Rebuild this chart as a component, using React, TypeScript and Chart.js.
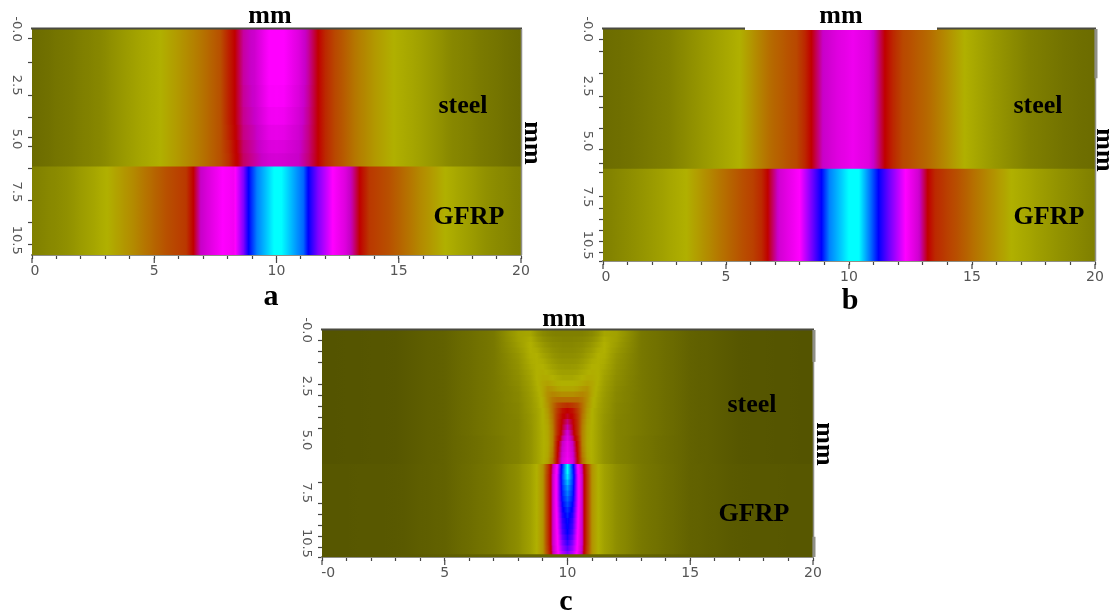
import React, { useEffect, useRef } from "react";
import { Chart, registerables } from "chart.js";

Chart.register(...registerables);

// ---- colour scale: level -> colour ----
const colorLevels = [0, 1, 2, 3, 3.5, 4, 5, 6];
const colorValues = [
  [79, 79, 0], [176, 176, 0], [184, 80, 0], [192, 0, 0],
  [200, 0, 200], [255, 0, 255], [0, 0, 255], [0, 255, 255],
];

// ---- panel a ----
const aSteelX = [0, 1.4, 2.8, 4.15, 5.25, 6, 6.9, 7.7, 8.05, 8.3, 8.65, 9.1, 9.7, 10, 10.3, 10.9, 11.3, 11.7, 12, 12.4, 13.2, 14, 14.8, 15.9, 17.2, 18.6, 20];
const aSteelRow1 = [0.29, 0.42, 0.58, 0.84, 1, 1.25, 1.6, 2, 2.6, 3, 3.4, 3.55, 4, 4, 4, 3.7, 3.4, 3, 2.5, 2.1, 1.6, 1.25, 1, 0.84, 0.58, 0.42, 0.29];
const aSteelRow2 = [0.29, 0.42, 0.58, 0.84, 1, 1.25, 1.6, 2, 2.6, 3, 3.38, 3.53, 3.96, 3.97, 3.96, 3.67, 3.38, 3, 2.5, 2.1, 1.6, 1.25, 1, 0.84, 0.58, 0.42, 0.29];
const aSteelRow3 = [0.29, 0.42, 0.58, 0.84, 1, 1.25, 1.6, 2, 2.6, 3, 3.36, 3.5, 3.88, 3.9, 3.88, 3.62, 3.36, 3, 2.5, 2.1, 1.6, 1.25, 1, 0.84, 0.58, 0.42, 0.29];
const aSteelRow4 = [0.29, 0.42, 0.58, 0.84, 1, 1.25, 1.6, 2, 2.55, 2.97, 3.33, 3.46, 3.78, 3.8, 3.78, 3.57, 3.34, 3, 2.5, 2.1, 1.6, 1.25, 1, 0.84, 0.58, 0.42, 0.29];
const aSteelRow5 = [0.29, 0.42, 0.58, 0.84, 1, 1.25, 1.6, 2, 2.45, 2.93, 3.28, 3.43, 3.68, 3.7, 3.68, 3.53, 3.32, 3, 2.5, 2.1, 1.6, 1.25, 1, 0.84, 0.58, 0.42, 0.29];
const aSteelRow6 = [0.29, 0.42, 0.58, 0.84, 1, 1.25, 1.6, 2, 2.4, 2.9, 3.25, 3.4, 3.6, 3.62, 3.6, 3.5, 3.3, 3, 2.5, 2.1, 1.6, 1.25, 1, 0.84, 0.58, 0.42, 0.29];
const aGfrpX = [0, 1.43, 3.07, 4.15, 5.5, 6.3, 6.6, 6.9, 7.43, 7.8, 8.25, 8.65, 8.86, 9.2, 9.9, 10.2, 10.8, 11.1, 11.3, 11.7, 12.3, 12.8, 13.1, 13.4, 13.8, 14.6, 15.9, 16.9, 18.6, 20];
const aGfrpV = [0.5, 0.67, 1, 1.4, 2, 2.3, 3, 3.5, 3.8, 4, 3.9, 4.5, 5, 5.5, 6, 6, 5.6, 5.4, 5, 4.5, 4, 3.7, 3.4, 3, 2.3, 2, 1.4, 1, 0.67, 0.5];
const aSteelEdges = [0, 2.5, 3.5, 4.3, 5, 5.6, 6.2];
const aGfrpBand = [6.2, 10.27];
const aYMax = 10.27;
const aYLabelAt = [0, 2.55, 5, 7.4, 9.6];
const aYTicks = [0.45, 1.5, 3, 4, 4.95, 5.36, 6.32, 7.8, 8.8, 9.8];

// ---- panel b ----
const bSteelX = [0, 1.35, 2.7, 4.07, 5.55, 6.77, 7.86, 8.2, 8.47, 8.94, 9.5, 10.16, 10.8, 11.1, 11.46, 11.8, 12.2, 13.3, 14.7, 15.9, 17.3, 18.6, 20];
const bSteelV = [0.29, 0.38, 0.5, 0.75, 1, 1.7, 2.1, 2.5, 3, 3.5, 3.7, 3.85, 3.7, 3.4, 3, 2.5, 2.1, 1.7, 1, 0.75, 0.5, 0.38, 0.29];
const bGfrpX = [0, 1.36, 3.39, 4.74, 6.1, 6.45, 6.7, 7.18, 8, 8.54, 8.88, 9.2, 10, 10.4, 10.9, 11.2, 11.6, 12.3, 12.8, 13.2, 13.5, 14, 15.2, 16.6, 18.6, 20];
const bGfrpV = [0.5, 0.68, 1, 1.6, 2.2, 2.5, 3, 3.6, 4, 4.6, 5, 5.5, 6, 6, 5.4, 5, 4.6, 4, 3.6, 3, 2.5, 2.2, 1.6, 1, 0.68, 0.5];
const bSteelBand = [0, 6.2];
const bGfrpBand = [6.2, 10.36];
const bYMax = 10.36;
const bYLabelAt = [0, 2.55, 5, 7.5, 9.65];
const bYTicks = [0.45, 1, 2, 3, 3.5, 4.45, 5.4, 6, 6.4, 7.5, 8, 8.5, 9, 9.5, 10, 10.36];

// ---- panel c: half profiles, distance from the centre line, one row per depth ----
const cDistance = [0, 0.2, 0.4, 0.6, 0.8, 1, 1.25, 1.5, 2, 3, 5, 7, 10];
const cDepths = [0, 0.25, 0.5, 0.75, 1, 1.25, 1.5, 1.75, 2, 2.25, 2.5, 2.75, 3, 3.25, 3.5, 3.75, 4, 4.25, 4.5, 4.75, 5, 5.25, 5.5, 5.75, 6.05, 6.25, 6.5, 6.75, 7, 7.25, 7.5, 7.75, 8, 8.25, 8.5, 8.75, 9, 9.25, 9.5, 9.75, 10, 10.15, 10.32];
const cRows = [
  [0.5, 0.5, 0.5, 0.52, 0.55, 0.6, 0.72, 0.9, 0.85, 0.42, 0.2, 0.08, 0.05],
  [0.54, 0.54, 0.55, 0.57, 0.61, 0.67, 0.8, 0.96, 0.83, 0.42, 0.2, 0.08, 0.05],
  [0.58, 0.58, 0.6, 0.62, 0.68, 0.75, 0.88, 1, 0.8, 0.42, 0.2, 0.08, 0.05],
  [0.61, 0.61, 0.63, 0.67, 0.74, 0.81, 0.95, 1, 0.76, 0.42, 0.2, 0.08, 0.05],
  [0.65, 0.65, 0.67, 0.72, 0.8, 0.88, 1, 0.98, 0.72, 0.42, 0.2, 0.08, 0.05],
  [0.7, 0.7, 0.72, 0.78, 0.86, 0.95, 1, 0.95, 0.7, 0.42, 0.2, 0.08, 0.05],
  [0.75, 0.76, 0.78, 0.84, 0.92, 1, 1, 0.92, 0.68, 0.42, 0.2, 0.08, 0.05],
  [0.82, 0.82, 0.85, 0.92, 0.98, 1.03, 1, 0.88, 0.66, 0.42, 0.2, 0.08, 0.05],
  [0.9, 0.9, 0.94, 1, 1.05, 1.05, 1, 0.85, 0.64, 0.42, 0.2, 0.08, 0.05],
  [1, 1, 1.02, 1.08, 1.15, 1.1, 0.98, 0.82, 0.62, 0.42, 0.2, 0.08, 0.05],
  [1.1, 1.1, 1.15, 1.25, 1.3, 1.1, 0.95, 0.8, 0.6, 0.42, 0.2, 0.08, 0.05],
  [1.35, 1.35, 1.4, 1.45, 1.35, 1.1, 0.92, 0.78, 0.58, 0.42, 0.2, 0.08, 0.05],
  [1.7, 1.7, 1.7, 1.6, 1.35, 1.05, 0.9, 0.76, 0.58, 0.42, 0.2, 0.08, 0.05],
  [2.4, 2.3, 2.1, 1.7, 1.3, 1.05, 0.88, 0.75, 0.56, 0.42, 0.2, 0.08, 0.05],
  [3, 2.8, 2.3, 1.7, 1.25, 1, 0.86, 0.74, 0.56, 0.42, 0.2, 0.08, 0.05],
  [3.1, 2.95, 2.4, 1.65, 1.2, 1, 0.85, 0.72, 0.55, 0.42, 0.2, 0.08, 0.05],
  [3.3, 3.05, 2.45, 1.6, 1.15, 1, 0.85, 0.72, 0.54, 0.42, 0.2, 0.08, 0.05],
  [3.45, 3.12, 2.48, 1.55, 1.12, 0.99, 0.85, 0.71, 0.54, 0.42, 0.2, 0.08, 0.05],
  [3.6, 3.2, 2.5, 1.5, 1.1, 0.98, 0.84, 0.7, 0.54, 0.42, 0.2, 0.08, 0.05],
  [3.7, 3.35, 2.7, 1.5, 1.09, 0.98, 0.84, 0.7, 0.54, 0.4, 0.2, 0.08, 0.05],
  [3.8, 3.5, 2.9, 1.5, 1.08, 0.98, 0.84, 0.7, 0.54, 0.4, 0.2, 0.08, 0.05],
  [3.82, 3.55, 2.95, 1.55, 1.09, 0.98, 0.84, 0.7, 0.54, 0.4, 0.2, 0.08, 0.05],
  [3.85, 3.6, 3, 1.6, 1.1, 0.98, 0.84, 0.7, 0.54, 0.4, 0.2, 0.08, 0.05],
  [3.9, 3.65, 3.05, 1.7, 1.15, 0.98, 0.84, 0.7, 0.54, 0.4, 0.2, 0.08, 0.05],
  [6, 5.2, 4.1, 3.4, 2.2, 1.3, 1, 0.85, 0.65, 0.42, 0.2, 0.1, 0.08],
  [6, 5.25, 4.15, 3.45, 2.25, 1.3, 1, 0.85, 0.65, 0.42, 0.2, 0.1, 0.08],
  [5.9, 5.3, 4.2, 3.5, 2.3, 1.3, 1, 0.85, 0.65, 0.42, 0.2, 0.1, 0.08],
  [5.75, 5.25, 4.2, 3.5, 2.3, 1.3, 1, 0.85, 0.65, 0.42, 0.2, 0.1, 0.08],
  [5.6, 5.2, 4.2, 3.5, 2.3, 1.3, 1, 0.85, 0.65, 0.42, 0.2, 0.1, 0.08],
  [5.5, 5.15, 4.2, 3.5, 2.3, 1.3, 1, 0.85, 0.65, 0.42, 0.2, 0.1, 0.08],
  [5.4, 5.1, 4.2, 3.5, 2.3, 1.3, 1, 0.85, 0.65, 0.42, 0.2, 0.1, 0.08],
  [5.3, 5.02, 4.18, 3.5, 2.3, 1.3, 1, 0.85, 0.65, 0.42, 0.2, 0.1, 0.08],
  [5.2, 4.95, 4.15, 3.5, 2.3, 1.3, 1, 0.85, 0.65, 0.42, 0.2, 0.1, 0.08],
  [5.12, 4.87, 4.12, 3.5, 2.3, 1.3, 1, 0.85, 0.65, 0.42, 0.2, 0.1, 0.08],
  [5.05, 4.8, 4.1, 3.5, 2.3, 1.3, 1, 0.85, 0.65, 0.42, 0.2, 0.1, 0.08],
  [5.02, 4.75, 4.08, 3.5, 2.3, 1.3, 1, 0.85, 0.65, 0.42, 0.2, 0.1, 0.08],
  [5, 4.7, 4.05, 3.5, 2.3, 1.3, 1, 0.85, 0.65, 0.42, 0.2, 0.1, 0.08],
  [4.9, 4.6, 4.02, 3.5, 2.3, 1.3, 1, 0.85, 0.65, 0.42, 0.2, 0.1, 0.08],
  [4.8, 4.5, 4, 3.5, 2.3, 1.3, 1, 0.85, 0.65, 0.42, 0.2, 0.1, 0.08],
  [4.65, 4.4, 3.98, 3.45, 2.25, 1.3, 1, 0.85, 0.65, 0.42, 0.2, 0.1, 0.08],
  [4.5, 4.3, 3.95, 3.4, 2.2, 1.3, 1, 0.85, 0.65, 0.42, 0.2, 0.1, 0.08],
  [0.22, 0.22, 0.22, 0.22, 0.22, 0.22, 0.22, 0.22, 0.22, 0.2, 0.15, 0.1, 0.08],
];
const cYMax = 10.32;
const cYLabelAt = [0, 2.55, 5, 7.4, 9.7];
const cYTicks = [0.5, 1, 1.5, 2.5, 3, 3.5, 4, 4.5, 6.95, 7.9, 8.4, 8.9, 9.4, 9.9, 10.32];

// ---- shared axes ----
const xMinorTicks = [0, 1, 2, 3, 4, 5, 6, 7, 8, 9, 10, 11, 12, 13, 14, 15, 16, 17, 18, 19, 20];
const xMajorTicks = [0, 5, 10, 15, 20];
const xLabelAtAB = [0.12, 5, 10, 15, 20];
const xLabelAtC = [0.25, 5, 10, 15, 20];
const xTextAB = ["0", "5", "10", "15", "20"];
const xTextC = ["-0", "5", "10", "15", "20"];
const yText = ["-0.0", "2.5", "5.0", "7.5", "10.5"];

const levelColor = (v: number) => {
  let i = 0;
  while (i < colorLevels.length - 2 && v > colorLevels[i + 1]) i++;
  const t = Math.max(0, Math.min(1, (v - colorLevels[i]) / (colorLevels[i + 1] - colorLevels[i])));
  const a = colorValues[i];
  const b = colorValues[i + 1];
  return `rgb(${Math.round(a[0] + (b[0] - a[0]) * t)},${Math.round(a[1] + (b[1] - a[1]) * t)},${Math.round(a[2] + (b[2] - a[2]) * t)})`;
};

type Band = { range: number[]; xs: number[]; vals: number[]; name: string };

const mirrorX = (d: number[]) => [...d.slice(1).reverse().map((v) => 10 - v), ...d.map((v) => 10 + v)];
const mirrorV = (r: number[]) => [...r.slice(1).reverse(), ...r];

const aSteelRows = [aSteelRow1, aSteelRow2, aSteelRow3, aSteelRow4, aSteelRow5, aSteelRow6];
const aBands: Band[] = [
  ...aSteelRows.map((vals, i) => ({ name: `steel ${i + 1}`, range: [aSteelEdges[i], aSteelEdges[i + 1]], xs: aSteelX, vals })),
  { name: "GFRP", range: aGfrpBand, xs: aGfrpX, vals: aGfrpV },
];
const bBands: Band[] = [
  { name: "steel", range: bSteelBand, xs: bSteelX, vals: bSteelV },
  { name: "GFRP", range: bGfrpBand, xs: bGfrpX, vals: bGfrpV },
];
const cBands: Band[] = cRows.map((r, i) => ({
  name: `depth ${cDepths[i]}`,
  range: [cDepths[i], cDepths[i + 1]],
  xs: mirrorX(cDistance),
  vals: mirrorV(r),
}));

type PanelProps = {
  box: { left: number; top: number; width: number; height: number };
  pad: { top: number; right: number };
  yWidth: number;
  xHeight: number;
  yMax: number;
  bands: Band[];
  xLabelAt: number[];
  xText: string[];
  yLabelAt: number[];
  yTicks: number[];
  thickRight: number[][];
};

function Panel(p: PanelProps) {
  const ref = useRef<HTMLCanvasElement | null>(null);
  useEffect(() => {
    const frame = {
      id: "frame",
      afterDraw(chart: any) {
        const { ctx, chartArea: ca, scales } = chart;
        ctx.save();
        ctx.strokeStyle = "#4a4a40";
        ctx.lineWidth = 2;
        ctx.beginPath();
        ctx.moveTo(ca.left - 1, ca.top - 0.5);
        ctx.lineTo(ca.right + 1, ca.top - 0.5);
        ctx.stroke();
        ctx.strokeStyle = "#8f8f86";
        ctx.lineWidth = 1.5;
        ctx.beginPath();
        ctx.moveTo(ca.right + 0.5, ca.top);
        ctx.lineTo(ca.right + 0.5, ca.bottom);
        ctx.stroke();
        ctx.lineWidth = 3;
        p.thickRight.forEach((seg) => {
          ctx.beginPath();
          ctx.moveTo(ca.right + 1, scales.y.getPixelForValue(seg[0]));
          ctx.lineTo(ca.right + 1, scales.y.getPixelForValue(seg[1]));
          ctx.stroke();
        });
        ctx.strokeStyle = "#444";
        ctx.lineWidth = 1.2;
        xMajorTicks.forEach((v) => {
          const x = scales.x.getPixelForValue(v);
          ctx.beginPath();
          ctx.moveTo(x, ca.bottom + 3);
          ctx.lineTo(x, ca.bottom + 8);
          ctx.stroke();
        });
        ctx.restore();
      },
    };
    const xAll = Array.from(new Set([...xMinorTicks, ...p.xLabelAt])).sort((a, b) => a - b);
    const yAll = Array.from(new Set([...p.yTicks, ...p.yLabelAt])).sort((a, b) => a - b);
    const chart = new Chart(ref.current as HTMLCanvasElement, {
      type: "bar",
      data: {
        labels: ["band"],
        datasets: p.bands.map((b) => ({
          label: b.name,
          data: [b.range as any],
          xAxisID: "band",
          yAxisID: "y",
          grouped: false,
          barPercentage: 1,
          categoryPercentage: 1,
          borderWidth: 0,
          inflateAmount: 1,
          backgroundColor: (ctx: any) => {
            const xs = ctx.chart.scales.x;
            const ca = ctx.chart.chartArea;
            if (!xs || !ca) return levelColor(b.vals[0]);
            const g = ctx.chart.ctx.createLinearGradient(xs.getPixelForValue(0), 0, xs.getPixelForValue(20), 0);
            for (let i = 0; i < b.xs.length - 1; i++) {
              for (let k = 0; k < 6; k++) {
                const t = k / 6;
                const x = b.xs[i] + (b.xs[i + 1] - b.xs[i]) * t;
                const v = b.vals[i] + (b.vals[i + 1] - b.vals[i]) * t;
                g.addColorStop(x / 20, levelColor(v));
              }
            }
            g.addColorStop(1, levelColor(b.vals[b.vals.length - 1]));
            return g;
          },
        })),
      },
      options: {
        animation: false,
        responsive: false,
        layout: { autoPadding: false, padding: { top: p.pad.top, right: p.pad.right, left: 0, bottom: 0 } },
        plugins: { legend: { display: false }, tooltip: { enabled: false } },
        scales: {
          band: { type: "category", display: false, labels: ["band"], offset: true },
          x: {
            type: "linear",
            position: "bottom",
            offset: false,
            min: 0,
            max: 20,
            afterFit: (s: any) => { s.height = p.xHeight; },
            afterBuildTicks: (s: any) => { s.ticks = xAll.map((value) => ({ value })); },
            ticks: {
              autoSkip: false,
              maxRotation: 0,
              minRotation: 0,
              padding: 4,
              color: "#555",
              font: { family: "'DejaVu Sans', sans-serif", size: 14 },
              callback: (v: any) => {
                const i = p.xLabelAt.indexOf(v);
                return i >= 0 ? p.xText[i] : "";
              },
            },
            grid: {
              offset: false,
              drawOnChartArea: false,
              tickLength: 4,
              tickWidth: 1.2,
              tickColor: (ctx: any) => (xMinorTicks.includes(ctx.tick?.value) ? "#444" : "rgba(0,0,0,0)"),
            },
            border: { display: true, color: "#8f8f86", width: 2 },
          },
          y: {
            type: "linear",
            position: "left",
            reverse: true,
            min: 0,
            max: p.yMax,
            afterFit: (s: any) => { s.width = p.yWidth; },
            afterBuildTicks: (s: any) => { s.ticks = yAll.map((value) => ({ value })); },
            ticks: {
              autoSkip: false,
              minRotation: -90,
              maxRotation: -90,
              crossAlign: "center",
              padding: -3,
              color: "#555",
              font: { family: "'DejaVu Sans', sans-serif", size: 13 },
              callback: (v: any) => {
                const i = p.yLabelAt.indexOf(v);
                return i >= 0 ? yText[i] : "";
              },
            },
            grid: {
              drawOnChartArea: false,
              tickLength: 4,
              tickWidth: 1.2,
              tickColor: (ctx: any) => (p.yTicks.includes(ctx.tick?.value) ? "#444" : "rgba(0,0,0,0)"),
            },
            border: { display: true, color: "#5a5a40", width: 1 },
          },
        },
      } as any,
      plugins: [frame],
    });
    return () => chart.destroy();
  }, []);
  return (
    <canvas
      ref={ref}
      width={p.box.width}
      height={p.box.height}
      style={{ position: "absolute", left: p.box.left, top: p.box.top, width: p.box.width, height: p.box.height }}
    />
  );
}

const Txt = ({ x, y, text, size = 26, rotate = 0 }: { x: number; y: number; text: string; size?: number; rotate?: number }) => (
  <div
    style={{
      position: "absolute",
      left: x,
      top: y,
      transform: `translate(-50%,-50%) rotate(${rotate}deg)`,
      font: `bold ${size}px 'Liberation Serif', serif`,
      color: "#000",
      whiteSpace: "nowrap",
      lineHeight: 1,
    }}
  >
    {text}
  </div>
);

export default function App() {
  return (
    <div style={{ position: "absolute", left: 0, top: 0, width: 1115, height: 614, background: "#fff", overflow: "hidden" }}>
      <Panel
        box={{ left: 0, top: 0, width: 536, height: 285 }}
        pad={{ top: 29, right: 15 }}
        yWidth={32}
        xHeight={30}
        yMax={aYMax}
        bands={aBands}
        xLabelAt={xLabelAtAB}
        xText={xTextAB}
        yLabelAt={aYLabelAt}
        yTicks={aYTicks}
        thickRight={[]}
      />
      <Panel
        box={{ left: 570, top: 0, width: 545, height: 292 }}
        pad={{ top: 29, right: 20 }}
        yWidth={33}
        xHeight={31}
        yMax={bYMax}
        bands={bBands}
        xLabelAt={xLabelAtAB}
        xText={xTextAB}
        yLabelAt={bYLabelAt}
        yTicks={bYTicks}
        thickRight={[[0, 2.2]]}
      />
      <Panel
        box={{ left: 290, top: 310, width: 536, height: 280 }}
        pad={{ top: 20, right: 13 }}
        yWidth={32}
        xHeight={33}
        yMax={cYMax}
        bands={cBands}
        xLabelAt={xLabelAtC}
        xText={xTextC}
        yLabelAt={cYLabelAt}
        yTicks={cYTicks}
        thickRight={[[0, 1.45], [9.4, 10.32]]}
      />
      <div style={{ position: "absolute", left: 745, top: 18, width: 192, height: 12, background: "#fff" }} />
      <Txt x={270} y={15} text="mm" />
      <Txt x={841} y={15} text="mm" />
      <Txt x={564} y={318} text="mm" />
      <Txt x={463} y={105} text="steel" />
      <Txt x={469} y={216} text="GFRP" />
      <Txt x={1038} y={105} text="steel" />
      <Txt x={1049} y={216} text="GFRP" />
      <Txt x={752} y={404} text="steel" />
      <Txt x={754} y={513} text="GFRP" />
      <Txt x={533} y={143} text="mm" rotate={90} />
      <Txt x={1105} y={150} text="mm" rotate={90} />
      <Txt x={825} y={444} text="mm" rotate={90} />
      <Txt x={271} y={295} text="a" size={30} />
      <Txt x={850} y={299} text="b" size={30} />
      <Txt x={566} y={600} text="c" size={30} />
    </div>
  );
}
